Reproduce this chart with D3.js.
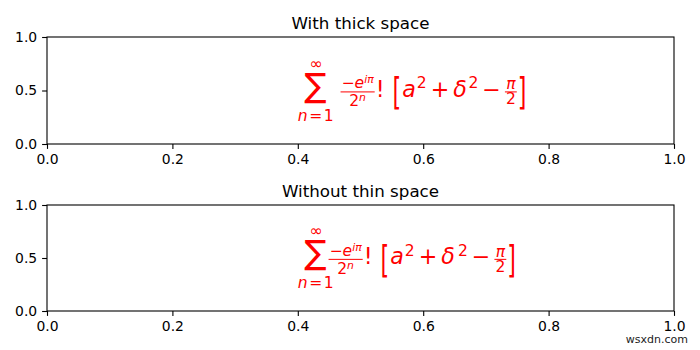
<!doctype html>
<meta charset="utf-8">
<title>mathtext spacing</title>
<script src="https://cdn.jsdelivr.net/npm/d3@7"></script>
<style>
  body { margin: 0; background: #fff; }
  text { font-family: "DejaVu Sans", sans-serif; }
</style>
<body>
<svg id="fig" width="700" height="350"></svg>
<script>

    var titles = ["With thick space", "Without thin space"]
            , xTicks = [0, 0.2, 0.4, 0.6, 0.8, 1.0]
            , yTicks = [0, 0.5, 1.0]
            , textX = 0.4
            , textY = 0.44;

    var left = 47, right = 674
            , panels = [{top: 37, bottom: 144, gap: 7}, {top: 205, bottom: 311, gap: -5}]
            , red = "#ff0000";

    var svg = d3.select("#fig");

    // place a run of text pieces one after the other, return group + width
    function row(parent, items) {
        var r = parent.append("g"), cx = 0;
        items.forEach(function(it) {
            var t = r.append("text")
                    .attr("x", cx + (it.dx || 0))
                    .attr("y", it.dy || 0)
                    .attr("font-size", it.size)
                    .attr("font-style", it.it ? "italic" : null)
                    .attr("fill", red)
                    .text(it.t);
            cx += (it.dx || 0) + t.node().getComputedTextLength();
        });
        return {g: r, w: cx};
    }

    function at(r, x, y) { r.g.attr("transform", "translate(" + x + "," + y + ")"); }

    // sum_{n=1}^inf  -e^{i pi}/2^n ! [a^2 + delta^2 - pi/2]
    function formula(g, x0, y0, gap) {
        var F = 22.2, S = F * 0.7, SS = F * 0.49;

        var sig = row(g, [{t: "\u2211", size: 33}]);
        var sub = row(g, [{t: "n", size: S, it: 1}, {t: "=", size: S, dx: 1.5}, {t: "1", size: S, dx: 1.5}]);
        var sup = row(g, [{t: "\u221e", size: S}]);
        var bw = Math.max(sig.w, sub.w);
        at(sig, x0 + (bw - sig.w) / 2, y0);
        at(sub, x0 + (bw - sub.w) / 2, y0 + 24);
        at(sup, x0 + (bw - sup.w) / 2, y0 - 28);
        var cx = x0 + bw + gap;

        // fraction
        var bar = y0 - 5;
        var num = row(g, [{t: "\u2212", size: S}, {t: "e", size: S, it: 1}, {t: "i\u03c0", size: SS, it: 1, dy: -5}]);
        var den = row(g, [{t: "2", size: S}, {t: "n", size: SS, it: 1, dy: -5}]);
        var fw = Math.max(num.w, den.w) + 2;
        at(num, cx + (fw - num.w) / 2, bar - 3.5);
        at(den, cx + (fw - den.w) / 2, bar + 14.5);
        g.append("line").attr("x1", cx).attr("x2", cx + fw).attr("y1", bar).attr("y2", bar)
                .attr("stroke", red).attr("stroke-width", 1);
        cx += fw;

        var bang = row(g, [{t: "!", size: F, dx: 1}]);
        at(bang, cx, y0);
        cx += bang.w + 8;

        // tall bracket
        var lb = row(g, [{t: "[", size: F, dy: 6.9}]);
        lb.g.attr("transform", "translate(" + cx + "," + (y0 - 4) + ") scale(1,1.65)");
        cx += lb.w;

        var body = row(g, [
            {t: "a", size: F, it: 1, dx: 1},
            {t: "2", size: S, dy: -8.5, dx: 1},
            {t: "+", size: F, dx: 4},
            {t: "\u03b4", size: F, it: 1, dx: 4},
            {t: "2", size: S, dy: -8.5, dx: gap < 0 ? 3 : 1.5},
            {t: "\u2212", size: F, dx: 4}
        ]);
        at(body, cx, y0);
        cx += body.w + 4;

        // pi / 2
        var pn = row(g, [{t: "\u03c0", size: S, it: 1}]);
        var pd = row(g, [{t: "2", size: S}]);
        var pw = Math.max(pn.w, pd.w) + 2;
        at(pn, cx + (pw - pn.w) / 2, bar - 2.5);
        at(pd, cx + (pw - pd.w) / 2, bar + 12.5);
        g.append("line").attr("x1", cx).attr("x2", cx + pw).attr("y1", bar).attr("y2", bar)
                .attr("stroke", red).attr("stroke-width", 1);
        cx += pw + 1;

        var rb = row(g, [{t: "]", size: F, dy: 6.9}]);
        rb.g.attr("transform", "translate(" + cx + "," + (y0 - 4) + ") scale(1,1.65)");
    }

    panels.forEach(function(p, i) {
        var x = d3.scaleLinear().domain([0, 1]).range([left, right]);
        var y = d3.scaleLinear().domain([0, 1]).range([p.bottom, p.top]);
        var g = svg.append("g");

        var xa = g.append("g")
                .attr("transform", "translate(0," + p.bottom + ")")
                .call(d3.axisBottom(x).tickValues(xTicks).tickFormat(d3.format(".1f"))
                        .tickSize(4.9).tickSizeOuter(0).tickPadding(4.9));
        var ya = g.append("g")
                .attr("transform", "translate(" + left + ",0)")
                .call(d3.axisLeft(y).tickValues(yTicks).tickFormat(d3.format(".1f"))
                        .tickSize(4.9).tickSizeOuter(0).tickPadding(4.9));
        [xa, ya].forEach(function(a) {
            a.attr("font-family", "DejaVu Sans").attr("font-size", 13.9);
            a.select(".domain").remove();
            a.selectAll(".tick line").attr("stroke", "#000").attr("stroke-width", 1.1);
            a.selectAll(".tick text").attr("fill", "#000");
        });

        g.append("rect")
                .attr("x", left).attr("y", p.top)
                .attr("width", right - left).attr("height", p.bottom - p.top)
                .attr("fill", "none").attr("stroke", "#000").attr("stroke-width", 1.1);

        g.append("text")
                .attr("x", (left + right) / 2).attr("y", p.top - 8.3)
                .attr("text-anchor", "middle").attr("font-size", 16.7)
                .text(titles[i]);

        formula(g.append("g"), x(textX), y(textY), p.gap);
    });

    svg.append("text")
            .attr("x", 688).attr("y", 343)
            .attr("text-anchor", "end").attr("font-size", 11)
            .attr("fill", "#222")
            .text("wsxdn.com");

</script>
</body>
